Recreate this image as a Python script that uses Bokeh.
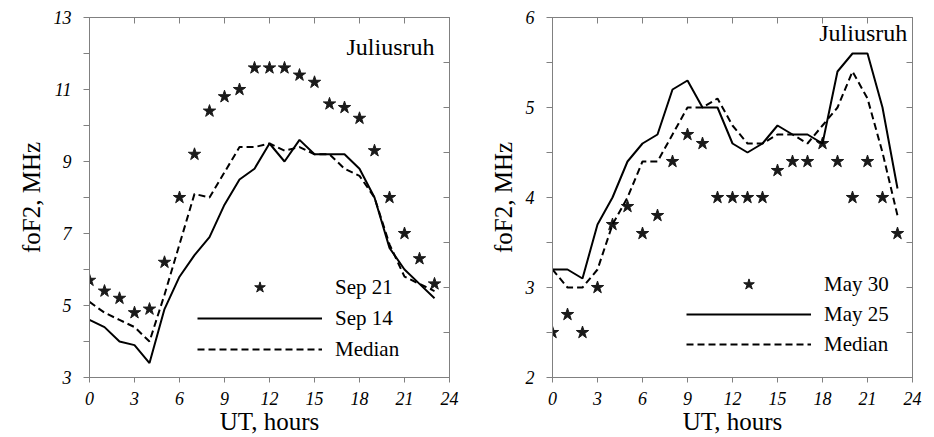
from bokeh.plotting import figure
from bokeh.layouts import row
from bokeh.models import (FixedTicker, LinearAxis, Legend, LegendItem, Label, Range1d)
from bokeh.embed import file_html
from bokeh.resources import INLINE

# ---------------- data ----------------
hours = list(range(24))
x_ticks = [0, 3, 6, 9, 12, 15, 18, 21, 24]

# Left panel (September)
sep21 = [5.7, 5.4, 5.2, 4.8, 4.9, 6.2, 8.0, 9.2, 10.4, 10.8, 11.0, 11.6,
         11.6, 11.6, 11.4, 11.2, 10.6, 10.5, 10.2, 9.3, 8.0, 7.0, 6.3, 5.6]
sep14 = [4.6, 4.4, 4.0, 3.9, 3.4, 4.9, 5.8, 6.4, 6.9, 7.8, 8.5, 8.8,
         9.5, 9.0, 9.6, 9.2, 9.2, 9.2, 8.8, 8.0, 6.6, 6.0, 5.6, 5.2]
sep_median = [5.1, 4.8, 4.6, 4.4, 4.0, 5.3, 6.7, 8.1, 8.0, 8.7, 9.4, 9.4,
              9.5, 9.3, 9.4, 9.2, 9.2, 8.8, 8.6, 8.0, 6.7, 5.8, 5.6, 5.4]
sep_labels = ["Sep 21", "Sep 14", "Median"]
left_y_major = [3, 5, 7, 9, 11, 13]
left_y_minor = [4, 6, 8, 10, 12]
left_right_ticks = [3, 4.25, 5.5, 6.75, 8, 9.25, 10.5, 11.75, 13]

# Right panel (May)
may30 = [2.5, 2.7, 2.5, 3.0, 3.7, 3.9, 3.6, 3.8, 4.4, 4.7, 4.6, 4.0,
         4.0, 4.0, 4.0, 4.3, 4.4, 4.4, 4.6, 4.4, 4.0, 4.4, 4.0, 3.6]
may25 = [3.2, 3.2, 3.1, 3.7, 4.0, 4.4, 4.6, 4.7, 5.2, 5.3, 5.0, 5.0,
         4.6, 4.5, 4.6, 4.8, 4.7, 4.7, 4.6, 5.4, 5.6, 5.6, 5.0, 4.1]
may_median = [3.2, 3.0, 3.0, 3.2, 3.7, 4.0, 4.4, 4.4, 4.7, 5.0, 5.0, 5.1,
              4.8, 4.6, 4.6, 4.7, 4.7, 4.6, 4.8, 5.0, 5.4, 5.1, 4.5, 3.8]
may_labels = ["May 30", "May 25", "Median"]
right_y_major = [2, 3, 4, 5, 6]
right_y_minor = [2.5, 3.5, 4.5, 5.5]
right_right_ticks = [2, 2.5, 3, 3.5, 4, 4.5, 5, 5.5, 6]

station = "Juliusruh"
x_title = "UT, hours"
y_title = "foF2, MHz"

FONT = "Liberation Serif"
GREY = "#808080"


def make_panel(stars, solid, dashed, labels, y_range, y_major, y_minor,
               right_ticks, width, border_left, border_right, legend_loc,
               station_xy, legend_spacing):
    p = figure(width=width, height=437, output_backend="svg",
               toolbar_location=None, x_range=Range1d(0, 24),
               y_range=Range1d(*y_range), min_border_left=border_left,
               min_border_right=border_right, min_border_top=17,
               min_border_bottom=60)
    p.grid.visible = False
    p.outline_line_color = GREY
    p.background_fill_color = "white"
    p.border_fill_color = "white"

    # bottom axis
    xa = p.xaxis[0]
    xa.ticker = FixedTicker(ticks=x_ticks)
    xa.axis_line_color = GREY
    xa.major_tick_line_color = GREY
    xa.major_tick_in = 0
    xa.major_tick_out = 5
    xa.minor_tick_line_color = None
    xa.major_label_text_font = FONT
    xa.major_label_text_font_style = "italic"
    xa.major_label_text_font_size = "18px"
    xa.major_label_text_color = "black"
    xa.major_label_standoff = 9
    xa.axis_label = x_title
    xa.axis_label_text_font = FONT
    xa.axis_label_text_font_style = "normal"
    xa.axis_label_text_font_size = "25px"
    xa.axis_label_text_color = "black"
    xa.axis_label_standoff = 0

    # left axis
    ya = p.yaxis[0]
    ya.ticker = FixedTicker(ticks=y_major, minor_ticks=y_minor)
    ya.axis_line_color = GREY
    ya.major_tick_line_color = GREY
    ya.minor_tick_line_color = GREY
    ya.major_tick_in = 0
    ya.major_tick_out = 6
    ya.minor_tick_in = 0
    ya.minor_tick_out = 6
    ya.major_label_text_font = FONT
    ya.major_label_text_font_style = "italic"
    ya.major_label_text_font_size = "18px"
    ya.major_label_text_color = "black"
    ya.major_label_standoff = 12
    ya.axis_label = y_title
    ya.axis_label_text_font = FONT
    ya.axis_label_text_font_style = "normal"
    ya.axis_label_text_font_size = "25px"
    ya.axis_label_text_color = "black"
    ya.axis_label_standoff = 6

    # top axis (ticks inside, no labels)
    top = LinearAxis(ticker=FixedTicker(ticks=x_ticks), axis_line_color=GREY,
                     major_tick_line_color=GREY, major_tick_in=6,
                     major_tick_out=0, minor_tick_line_color=None,
                     major_label_text_color=None,
                     major_label_text_font_size="1px", major_label_standoff=0)
    p.add_layout(top, "above")
    # right axis (ticks inside, no labels)
    right = LinearAxis(ticker=FixedTicker(ticks=right_ticks),
                       axis_line_color=GREY, major_tick_line_color=GREY,
                       major_tick_in=6, major_tick_out=0,
                       minor_tick_line_color=None,
                       major_label_text_color=None,
                       major_label_text_font_size="1px",
                       major_label_standoff=0)
    p.add_layout(right, "right")

    r_star = p.scatter(hours, stars, marker="star", size=13,
                       fill_color="#1a1a1a", line_color="#1a1a1a")
    r_solid = p.line(hours, solid, line_color="black", line_width=2)
    r_dash = p.line(hours, dashed, line_color="black", line_width=2,
                    line_dash="7 4")

    legend = Legend(items=[LegendItem(label=labels[0], renderers=[r_star]),
                           LegendItem(label=labels[1], renderers=[r_solid]),
                           LegendItem(label=labels[2], renderers=[r_dash])],
                    location=legend_loc, glyph_width=125, glyph_height=28,
                    label_height=28, spacing=legend_spacing,
                    label_standoff=13, padding=0, margin=0,
                    border_line_color=None, background_fill_alpha=0,
                    label_text_font=FONT, label_text_font_size="21px",
                    label_text_color="black")
    p.add_layout(legend)

    p.add_layout(Label(x=station_xy[0], y=station_xy[1], text=station,
                       text_font=FONT, text_font_size="24px",
                       text_align="right", text_baseline="middle",
                       text_color="black"))
    return p


p1 = make_panel(sep21, sep14, sep_median, sep_labels, (3, 13), left_y_major,
                left_y_minor, left_right_ticks, 469, 89, 20, (108, 14),
                (23.0, 12.18), 3)
p2 = make_panel(may30, may25, may_median, may_labels, (2, 6), right_y_major,
                right_y_minor, right_right_ticks, 463, 83, 20, (134, 19),
                (23.65, 5.83), 2)

layout = row(p1, p2)
open("out.html", "w").write(file_html(layout, INLINE))
